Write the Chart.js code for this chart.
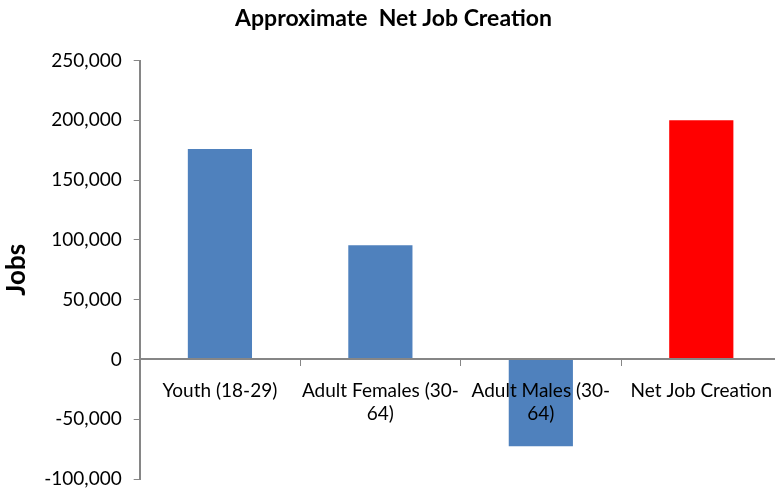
<!DOCTYPE html>
<html>
<head>
<meta charset="utf-8">
<script src="https://cdn.jsdelivr.net/npm/chart.js@4/dist/chart.umd.min.js"></script>
<style>
  html, body { margin: 0; padding: 0; background: #fff; overflow: hidden; }
  #wrap { width: 786px; height: 489px; }
</style>
</head>
<body>
<div id="wrap"><canvas id="chart" width="786" height="489"></canvas></div>
<script>
var categories = [["Youth (18-29)"], ["Adult Females (30-", "64)"], ["Adult Males (30-", "64)"], ["Net Job Creation"]]
var jobs = [176000, 95500, -72500, 200000]
var barColors = ["#4F81BD", "#4F81BD", "#4F81BD", "#FF0000"]
var yMin = -100000
var yMax = 250000
var yStep = 50000

var font = "Lato, 'Open Sans', sans-serif"
var axisGray = "#868686"

var ctx = document.getElementById("chart").getContext("2d")
var chart = new Chart(ctx, {
    type: "bar",
    data: {
        labels: categories,
        datasets: [{
            label: "Jobs",
            data: jobs,
            backgroundColor: barColors,
            barPercentage: 1,
            categoryPercentage: 0.4
        }]
    },
    options: {
        responsive: false,
        animation: false,
        layout: { padding: { top: 3, bottom: 0, left: 1, right: 0 } },
        plugins: {
            legend: { display: false },
            tooltip: { enabled: false },
            title: {
                display: true,
                text: "Approximate  Net Job Creation",
                color: "#000",
                font: { family: font, size: 23, weight: "bold" },
                padding: { top: 2, bottom: 28 }
            }
        },
        scales: {
            x: {
                position: { y: 0 },
                grid: {
                    display: true,
                    drawOnChartArea: false,
                    drawTicks: true,
                    tickLength: 6,
                    color: axisGray,
                    z: 1
                },
                border: { display: true, color: axisGray, width: 2, z: 1 },
                ticks: {
                    color: "#000",
                    font: { family: font, size: 19, lineHeight: 1.2 },
                    padding: 14,
                    maxRotation: 0,
                    autoSkip: false,
                    z: 2
                }
            },
            y: {
                min: yMin,
                max: yMax,
                grid: {
                    display: true,
                    drawOnChartArea: false,
                    drawTicks: true,
                    tickLength: 6,
                    color: axisGray
                },
                border: { display: true, color: axisGray, width: 2 },
                title: {
                    display: true,
                    text: "Jobs",
                    color: "#000",
                    font: { family: font, size: 26, weight: "bold" },
                    padding: { top: 0, bottom: 0 }
                },
                ticks: {
                    stepSize: yStep,
                    color: "#000",
                    font: { family: font, size: 19 },
                    padding: 12,
                    callback: function(v) { return v.toLocaleString("en-US") }
                },
                afterFit: function(scale) {
                    scale.paddingTop = 12
                    scale.paddingBottom = 10
                }
            }
        }
    }
})
</script>
</body>
</html>
